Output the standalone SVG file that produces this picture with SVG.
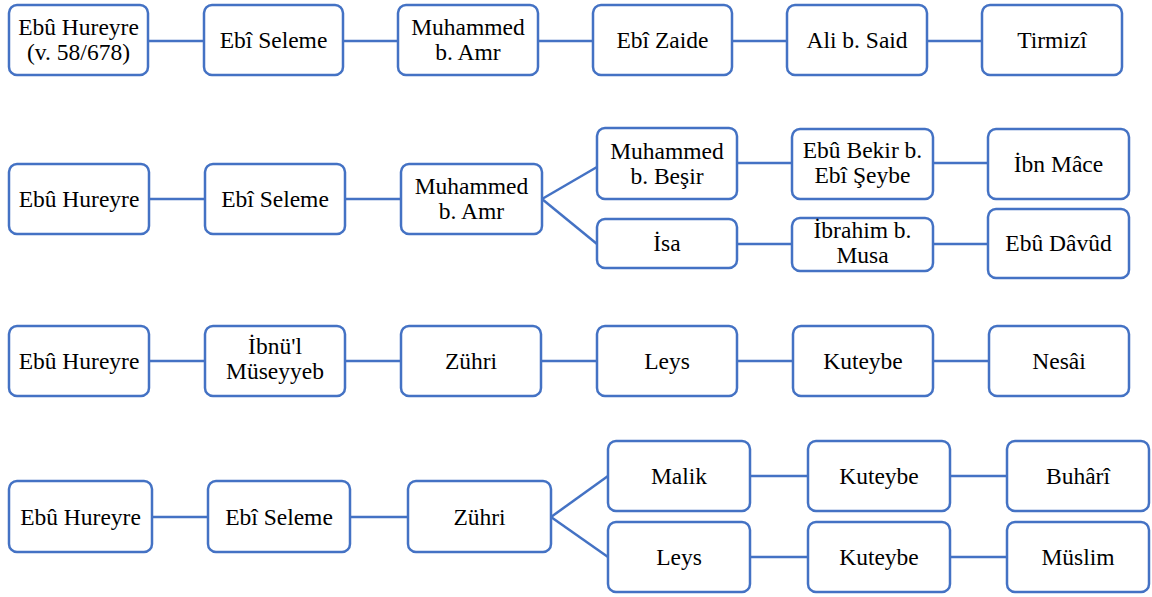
<svg xmlns="http://www.w3.org/2000/svg" width="1152" height="597" viewBox="0 0 1152 597">
<defs>
<style>
rect.n{fill:#fff;stroke:#4472C4;stroke-width:2.5}
text{font-size:23.5px;fill:#000;text-anchor:middle}
#connectors line{stroke:#4472C4;stroke-width:2.5}
</style>
</defs>
<rect width="1152" height="597" fill="#fff"/>
<g id="connectors">
<line x1="148" y1="41" x2="204" y2="41"/>
<line x1="343" y1="41" x2="398" y2="41"/>
<line x1="538" y1="41" x2="593" y2="41"/>
<line x1="732" y1="41" x2="787" y2="41"/>
<line x1="927" y1="41" x2="982" y2="41"/>
<line x1="149" y1="199" x2="205" y2="199"/>
<line x1="345" y1="199" x2="401" y2="199"/>
<line x1="542" y1="199" x2="597" y2="167"/>
<line x1="542" y1="199" x2="597" y2="244"/>
<line x1="737" y1="163" x2="792" y2="163"/>
<line x1="933" y1="163" x2="988" y2="163"/>
<line x1="737" y1="244" x2="792" y2="244"/>
<line x1="933" y1="244" x2="988" y2="244"/>
<line x1="149" y1="361" x2="205" y2="361"/>
<line x1="345" y1="361" x2="401" y2="361"/>
<line x1="541" y1="361" x2="597" y2="361"/>
<line x1="737" y1="361" x2="793" y2="361"/>
<line x1="933" y1="361" x2="989" y2="361"/>
<line x1="152" y1="517" x2="208" y2="517"/>
<line x1="350" y1="517" x2="408" y2="517"/>
<line x1="551" y1="517" x2="608" y2="476"/>
<line x1="551" y1="517" x2="608" y2="557"/>
<line x1="750" y1="476" x2="808" y2="476"/>
<line x1="950" y1="476" x2="1007" y2="476"/>
<line x1="750" y1="557" x2="808" y2="557"/>
<line x1="950" y1="557" x2="1007" y2="557"/>
</g>
<g font-family="Liberation Serif">
<!-- Row 1 -->
<g id="r1n1"><rect class="n" x="9" y="5" width="139" height="70" rx="8"/><text x="78.5" y="35">Ebû Hureyre</text><text x="78.5" y="59.5">(v. 58/678)</text></g>
<g id="r1n2"><rect class="n" x="204" y="5" width="139" height="70" rx="8"/><text x="273.5" y="47.5">Ebî Seleme</text></g>
<g id="r1n3"><rect class="n" x="398" y="5" width="140" height="70" rx="8"/><text x="468" y="35">Muhammed</text><text x="468" y="59.5">b. Amr</text></g>
<g id="r1n4"><rect class="n" x="593" y="5" width="139" height="70" rx="8"/><text x="662.5" y="47.5">Ebî Zaide</text></g>
<g id="r1n5"><rect class="n" x="787" y="5" width="140" height="70" rx="8"/><text x="857" y="47.5">Ali b. Said</text></g>
<g id="r1n6"><rect class="n" x="982" y="5" width="140" height="70" rx="8"/><text x="1052" y="47.5">Tirmizî</text></g>
<!-- Row 2 -->
<g id="r2n1"><rect class="n" x="9" y="164" width="140" height="70" rx="8"/><text x="79" y="206.5">Ebû Hureyre</text></g>
<g id="r2n2"><rect class="n" x="205" y="164" width="140" height="70" rx="8"/><text x="275" y="206.5">Ebî Seleme</text></g>
<g id="r2n3"><rect class="n" x="401" y="164" width="141" height="70" rx="8"/><text x="471.5" y="194">Muhammed</text><text x="471.5" y="218.5">b. Amr</text></g>
<g id="r2n4"><rect class="n" x="597" y="128" width="140" height="71" rx="8"/><text x="667" y="159">Muhammed</text><text x="667" y="183.5">b. Beşir</text></g>
<g id="r2n5"><rect class="n" x="597" y="219" width="140" height="49" rx="8"/><text x="667" y="251">İsa</text></g>
<g id="r2n6"><rect class="n" x="792" y="129" width="141" height="70" rx="8"/><text x="862.5" y="158">Ebû Bekir b.</text><text x="862.5" y="183">Ebî Şeybe</text></g>
<g id="r2n7"><rect class="n" x="792" y="218" width="141" height="53" rx="8"/><text x="862.5" y="238">İbrahim b.</text><text x="862.5" y="263">Musa</text></g>
<g id="r2n8"><rect class="n" x="988" y="129" width="141" height="70" rx="8"/><text x="1058.5" y="171.5">İbn Mâce</text></g>
<g id="r2n9"><rect class="n" x="988" y="209" width="141" height="69" rx="8"/><text x="1058.5" y="251">Ebû Dâvûd</text></g>
<!-- Row 3 -->
<g id="r3n1"><rect class="n" x="9" y="326" width="140" height="70" rx="8"/><text x="79" y="368.5">Ebû Hureyre</text></g>
<g id="r3n2"><rect class="n" x="205" y="326" width="140" height="70" rx="8"/><text x="275" y="354">İbnü'l</text><text x="275" y="379">Müseyyeb</text></g>
<g id="r3n3"><rect class="n" x="401" y="326" width="140" height="70" rx="8"/><text x="471" y="368.5">Zühri</text></g>
<g id="r3n4"><rect class="n" x="597" y="326" width="140" height="70" rx="8"/><text x="667" y="368.5">Leys</text></g>
<g id="r3n5"><rect class="n" x="793" y="326" width="140" height="70" rx="8"/><text x="863" y="368.5">Kuteybe</text></g>
<g id="r3n6"><rect class="n" x="989" y="326" width="140" height="70" rx="8"/><text x="1059" y="368.5">Nesâi</text></g>
<!-- Row 4 -->
<g id="r4n1"><rect class="n" x="9" y="481" width="143" height="71" rx="8"/><text x="80.5" y="524.5">Ebû Hureyre</text></g>
<g id="r4n2"><rect class="n" x="208" y="481" width="142" height="71" rx="8"/><text x="279" y="524.5">Ebî Seleme</text></g>
<g id="r4n3"><rect class="n" x="408" y="481" width="143" height="71" rx="8"/><text x="479.5" y="524.5">Zühri</text></g>
<g id="r4n4"><rect class="n" x="608" y="441" width="142" height="70" rx="8"/><text x="679" y="483.5">Malik</text></g>
<g id="r4n5"><rect class="n" x="808" y="441" width="142" height="70" rx="8"/><text x="879" y="483.5">Kuteybe</text></g>
<g id="r4n6"><rect class="n" x="1007" y="441" width="142" height="70" rx="8"/><text x="1078" y="483.5">Buhârî</text></g>
<g id="r4n7"><rect class="n" x="608" y="522" width="142" height="70" rx="8"/><text x="679" y="564.5">Leys</text></g>
<g id="r4n8"><rect class="n" x="808" y="522" width="142" height="70" rx="8"/><text x="879" y="564.5">Kuteybe</text></g>
<g id="r4n9"><rect class="n" x="1007" y="522" width="142" height="70" rx="8"/><text x="1078" y="564.5">Müslim</text></g>
</g>
</svg>
